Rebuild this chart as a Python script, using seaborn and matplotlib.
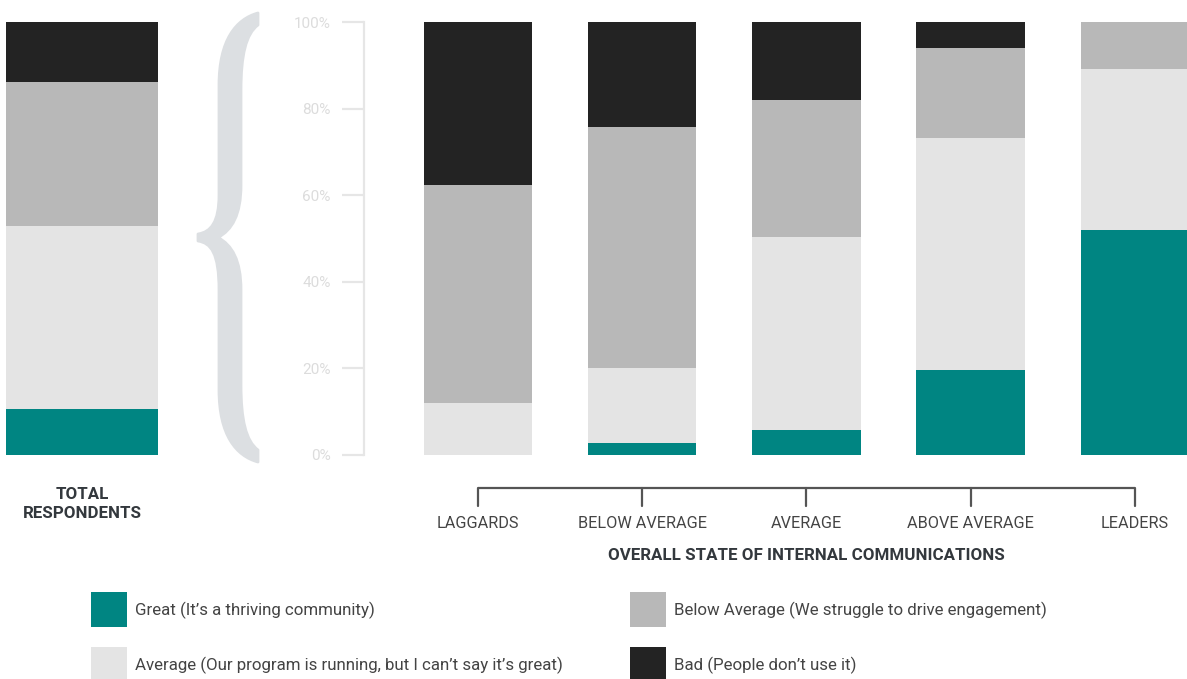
import numpy as np
import pandas as pd
import seaborn as sns
import matplotlib
matplotlib.use("Agg")
import matplotlib.pyplot as plt
from matplotlib.path import Path
from matplotlib.patches import PathPatch, Rectangle
from matplotlib import transforms

# ---- data (percent of respondents) ----
categories = ["LAGGARDS", "BELOW AVERAGE", "AVERAGE", "ABOVE AVERAGE", "LEADERS"]
great = [0.0, 2.8, 5.8, 19.6, 52.0]
average = [12.0, 17.3, 44.5, 53.6, 37.1]
below_average = [50.4, 55.7, 31.7, 20.8, 10.9]
bad = [37.6, 24.2, 18.0, 6.0, 0.0]

total_label = "TOTAL\nRESPONDENTS"
total_great = [10.6]
total_average = [42.3]
total_below_average = [33.3]
total_bad = [13.8]

legend_labels = [
    "Great (It’s a thriving community)",
    "Average (Our program is running, but I can’t say it’s great)",
    "Below Average (We struggle to drive engagement)",
    "Bad (People don’t use it)",
]

C_GREAT = "#008582"
C_AVG = "#e4e4e4"
C_BELOW = "#b8b8b8"
C_BAD = "#232323"
TEXT = "#444444"
DARK = "#33383d"

sns.set_style("white")
plt.rcParams["font.family"] = ["Roboto", "DejaVu Sans"]

W, H = 1187, 679
fig = plt.figure(figsize=(W / 100, H / 100), dpi=100)


def px_rect(x0, y0, x1, y1):
    return [x0 / W, 1 - y1 / H, (x1 - x0) / W, (y1 - y0) / H]


px = transforms.Affine2D().scale(1 / W, -1 / H).translate(0, 1) + fig.transFigure


def stack_layers(g, a, b, d):
    g, a, b, d = map(np.asarray, (g, a, b, d))
    # drawn back-to-front: full stack first, then progressively shorter sums
    return [
        (g + a + b + d, C_BAD),
        (g + a + b, C_BELOW),
        (g + a, C_AVG),
        (g, C_GREAT),
    ]


# ---- main stacked bars ----
ax = fig.add_axes(px_rect(364, 22, 1187, 455))
for vals, col in stack_layers(great, average, below_average, bad):
    df = pd.DataFrame({"group": categories, "value": vals})
    sns.barplot(data=df, x="group", y="value", order=categories, color=col,
                saturation=1, width=0.66, linewidth=0, errorbar=None, ax=ax)

ax.set_xlim(-0.694, 4.318)
ax.set_ylim(0, 100)
ax.set_yticks(range(0, 101, 20))
ax.set_yticklabels([f"{v}%" for v in range(0, 101, 20)])
ax.set_xlabel("")
ax.set_ylabel("")
for s in ("top", "right", "bottom"):
    ax.spines[s].set_visible(False)
ax.spines["left"].set_color("#e6e6e6")
ax.spines["left"].set_linewidth(1.6)
ax.tick_params(axis="y", length=16, width=1.6, color="#e6e6e6",
               labelcolor="#dcdcdc", labelsize=11, pad=8, left=True)
ax.tick_params(axis="x", length=0, labelbottom=False)
ax.set_facecolor("none")

# bracket grouping the categories
xt = ax.get_xaxis_transform()
y_top = (455 - 488) / 433
y_bot = (455 - 506) / 433
ax.plot([0, len(categories) - 1], [y_top, y_top], color="#555555", lw=1.6,
        transform=xt, clip_on=False, solid_capstyle="butt")
for i, name in enumerate(categories):
    ax.plot([i, i], [y_top, y_bot], color="#555555", lw=1.6, transform=xt,
            clip_on=False)
    ax.text(i, (455 - 523) / 433, name, transform=xt, ha="center", va="center",
            fontsize=11.7, color=TEXT)
ax.text(2, (455 - 556) / 433, "OVERALL STATE OF INTERNAL COMMUNICATIONS",
        transform=xt, ha="center", va="center", fontsize=12.2, fontweight="bold",
        color=DARK)

# ---- total respondents bar ----
ax_t = fig.add_axes(px_rect(6, 22, 158, 455))
for vals, col in stack_layers(total_great, total_average, total_below_average, total_bad):
    df = pd.DataFrame({"group": ["total"], "value": vals})
    sns.barplot(data=df, x="group", y="value", color=col, saturation=1,
                width=1.0, linewidth=0, errorbar=None, ax=ax_t)
ax_t.set_xlim(-0.5, 0.5)
ax_t.set_ylim(0, 100)
ax_t.axis("off")
fig.text(82 / W, 1 - 504 / H, total_label, ha="center", va="center",
         fontsize=12.2, fontweight="bold", color=DARK, linespacing=1.3)

# ---- curly brace linking total to the breakdown ----
verts = [
    (258, 13),
    (236, 19), (219, 40), (219, 85),
    (219, 195),
    (219, 222), (211, 232), (198, 234),
    (198, 241),
    (211, 243), (219, 253), (219, 290),
    (219, 390),
    (219, 435), (236, 456), (258, 462),
    (258, 450),
    (246, 441), (241, 420), (241, 385),
    (241, 290),
    (241, 260), (232, 245), (218, 237.5),
    (232, 230), (241, 215), (241, 185),
    (241, 90),
    (241, 55), (246, 34), (258, 25),
    (258, 13),
]
codes = ([Path.MOVETO] + [Path.CURVE4] * 3 + [Path.LINETO] + [Path.CURVE4] * 3
         + [Path.LINETO] + [Path.CURVE4] * 3 + [Path.LINETO] + [Path.CURVE4] * 3
         + [Path.LINETO] + [Path.CURVE4] * 3 + [Path.LINETO] + [Path.CURVE4] * 6
         + [Path.LINETO] + [Path.CURVE4] * 3 + [Path.CLOSEPOLY])
brace = PathPatch(Path(verts, codes), transform=px, facecolor="#dcdfe2",
                  edgecolor="#dcdfe2", lw=2, joinstyle="round")
fig.add_artist(brace)

# ---- legend ----
legend_items = [
    (91, 592, C_GREAT, legend_labels[0]),
    (91, 647, C_AVG, legend_labels[1]),
    (630, 592, C_BELOW, legend_labels[2]),
    (630, 647, C_BAD, legend_labels[3]),
]
for x0, y0, col, lab in legend_items:
    fig.add_artist(Rectangle((x0, y0), 36, 35, transform=px,
                             facecolor=col, edgecolor="none"))
    fig.text((x0 + 44) / W, 1 - (y0 + 18) / H, lab, ha="left", va="center",
             fontsize=12.2, color=TEXT)

fig.savefig("out.png", dpi=100, facecolor="white")
